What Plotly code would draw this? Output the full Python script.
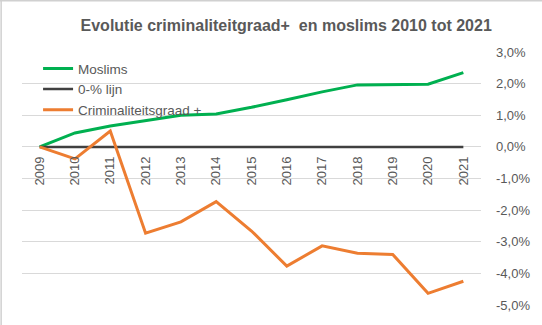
import plotly.graph_objects as go

years = ["2009", "2010", "2011", "2012", "2013", "2014", "2015",
         "2016", "2017", "2018", "2019", "2020", "2021"]
moslims = [0.0, 0.44, 0.66, 0.82, 1.0, 1.04, 1.25, 1.49, 1.74, 1.96, 1.98, 1.98, 2.35]
nul_lijn = [0.0] * 13
criminaliteit = [0.0, -0.38, 0.50, -2.73, -2.37, -1.73, -2.66, -3.77, -3.13,
                 -3.36, -3.40, -4.63, -4.25]

y_ticks = [3, 2, 1, 0, -1, -2, -3, -4, -5]
y_labels = ["3,0%", "2,0%", "1,0%", "0,0%", "-1,0%", "-2,0%", "-3,0%", "-4,0%", "-5,0%"]

grey = "#595959"
font = "Liberation Sans"

fig = go.Figure()
fig.add_trace(go.Scatter(x=years, y=moslims, name="Moslims", mode="lines",
                         line=dict(color="#00B050", width=3)))
fig.add_trace(go.Scatter(x=years, y=nul_lijn, name="0-% lijn", mode="lines",
                         line=dict(color="#404040", width=2.5)))
fig.add_trace(go.Scatter(x=years, y=criminaliteit, name="Criminaliteitsgraad +", mode="lines",
                         line=dict(color="#ED7D31", width=3)))

fig.update_layout(
    width=542, height=325,
    margin=dict(l=22, r=58, t=52, b=19),
    paper_bgcolor="white", plot_bgcolor="white",
    font=dict(family=font, color=grey, size=13),
    title=dict(text="<b>Evolutie criminaliteitgraad+  en moslims 2010 tot 2021</b>",
               x=0.528, xref="container", xanchor="center",
               y=1 - 25 / 325, yref="container", yanchor="middle",
               font=dict(family=font, size=16, color=grey)),
    showlegend=True,
    legend=dict(x=0.035, y=0.995, xanchor="left", yanchor="top",
                bgcolor="rgba(0,0,0,0)", font=dict(size=13.5, color=grey),
                itemwidth=30, tracegroupgap=0),
    xaxis=dict(type="category", range=[-0.5, 12.5], showgrid=False, zeroline=False,
               showline=False, ticks="", tickangle=-90,
               anchor="free", position=5 / 8, ticklabelstandoff=6,
               tickfont=dict(size=13, color=grey)),
    yaxis=dict(range=[-5, 3], side="right", tickvals=y_ticks, ticktext=y_labels,
               showgrid=True, gridcolor="#D9D9D9", gridwidth=1, zeroline=False,
               showline=False, ticks="", ticklabelstandoff=14,
               tickfont=dict(size=13, color=grey)),
    shapes=[
        dict(type="line", xref="paper", yref="paper", x0=-21 / 462, x1=-21 / 462,
             y0=-0.1, y1=1.25, line=dict(color="#D0D0D0", width=1.5)),
        dict(type="line", xref="paper", yref="paper", x0=-0.05, x1=1.2,
             y0=305 / 253.7, y1=305 / 253.7,
             line=dict(color="#D0D0D0", width=1.5)),
    ],
)

fig.write_html("out.html")
